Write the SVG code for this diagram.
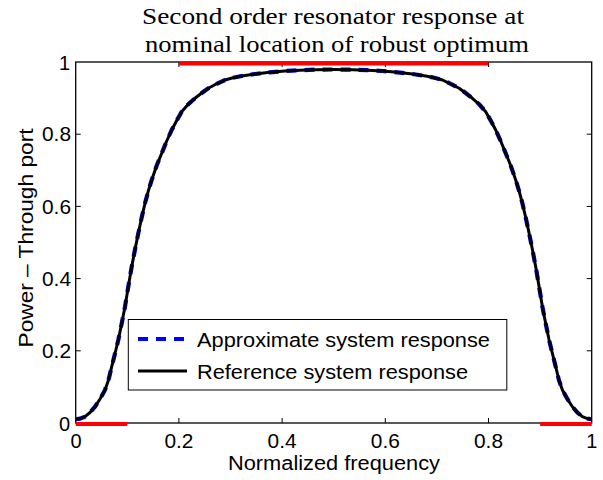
<svg xmlns="http://www.w3.org/2000/svg" xmlns:xlink="http://www.w3.org/1999/xlink" width="603" height="480" viewBox="0 0 603 480">
<style>
.sans{font-family:"Liberation Sans",Arial,sans-serif;fill:#000}
.serif{font-family:"Liberation Serif","Times New Roman",serif;fill:#000}
.tick{font-size:20px}
.ax{fill:none;stroke:#000;stroke-width:1.3}
.tk{stroke:#000;stroke-width:1}
.red{stroke:#ff0000;stroke-width:4;fill:none}
.approx{fill:none;stroke:#0000ff;stroke-width:4.2;stroke-dasharray:10 8}
.ref{fill:none;stroke:#000;stroke-width:3;stroke-linejoin:round}
</style>
<defs>
<polyline id="curve" points="75.7,419.3 80,418.6 85,416.7 90,412.5 95,406.7 100,399 105,390 108.5,380 111.7,366.7 115,353.5 118.3,340 121.7,323.5 125,306.7 128.3,286.7 131.7,266.7 135,249.5 138.3,233.3 141.7,217.5 145,203.3 148.3,191 151.7,180 156.7,165.5 161.7,153.3 166.7,141 171.7,130 176.7,120.5 181.7,111.7 188,104.5 195,98.3 201.7,93 208.3,88.3 216.7,83.8 225,80 233,77.8 241.7,76 255,74 270,72.3 285,71 300,70.2 315,69.7 333.7,69.5 352.4,69.7 367.4,70.2 382.4,71 397.4,72.3 412.4,74 425.7,76 434.4,77.8 442.4,80 450.7,83.8 459.1,88.3 465.7,93 472.4,98.3 479.4,104.5 485.7,111.7 490.7,120.5 495.7,130 500.7,141 505.7,153.3 510.7,165.5 515.7,180 519.1,191 522.4,203.3 525.7,217.5 529.1,233.3 532.4,249.5 535.7,266.7 539.1,286.7 542.4,306.7 545.7,323.5 549.1,340 552.4,353.5 555.7,366.7 558.9,380 562.4,390 567.4,399 572.4,406.7 577.4,412.5 582.4,416.7 587.4,418.6 591.7,419.3"/>
</defs>
<rect width="603" height="480" fill="#fff"/>
<g id="title">
<text class="serif" x="333" y="24" font-size="24" text-anchor="middle" textLength="382" lengthAdjust="spacingAndGlyphs">Second order resonator response at</text>
<text class="serif" x="337" y="52" font-size="24" text-anchor="middle" textLength="384" lengthAdjust="spacingAndGlyphs">nominal location of robust optimum</text>
</g>
<g id="axes">
<rect class="ax" x="75.7" y="62" width="516" height="361"/>
<path class="tk" d="M178.9,423V418M282.1,423V418M385.3,423V418M488.5,423V418M178.9,62V67M282.1,62V67M385.3,62V67M488.5,62V67M75.7,134.2H80.7M75.7,206.4H80.7M75.7,278.6H80.7M75.7,350.8H80.7M591.7,134.2H586.7M591.7,206.4H586.7M591.7,278.6H586.7M591.7,350.8H586.7"/>
</g>
<g id="xticklabels" class="sans tick" text-anchor="middle">
<text x="76" y="448">0</text>
<text x="178.9" y="448" textLength="29" lengthAdjust="spacingAndGlyphs">0.2</text>
<text x="282.1" y="448" textLength="29" lengthAdjust="spacingAndGlyphs">0.4</text>
<text x="385.3" y="448" textLength="29" lengthAdjust="spacingAndGlyphs">0.6</text>
<text x="488.5" y="448" textLength="29" lengthAdjust="spacingAndGlyphs">0.8</text>
<text x="591.7" y="448">1</text>
</g>
<g id="yticklabels" class="sans tick" text-anchor="end">
<text x="70" y="430.5">0</text>
<text x="71" y="358" textLength="29" lengthAdjust="spacingAndGlyphs">0.2</text>
<text x="71" y="285.8" textLength="29" lengthAdjust="spacingAndGlyphs">0.4</text>
<text x="71" y="213.6" textLength="29" lengthAdjust="spacingAndGlyphs">0.6</text>
<text x="71" y="141.4" textLength="29" lengthAdjust="spacingAndGlyphs">0.8</text>
<text x="70" y="69.5">1</text>
</g>
<g id="axislabels">
<text class="sans" x="334" y="470" font-size="20" text-anchor="middle" textLength="212" lengthAdjust="spacingAndGlyphs">Normalized frequency</text>
<text class="sans" transform="translate(33,238) rotate(-90)" x="0" y="0" font-size="20.5" text-anchor="middle" textLength="219" lengthAdjust="spacingAndGlyphs">Power – Through port</text>
</g>
<g id="constraints">
<line class="red" x1="178.9" y1="63.5" x2="488.5" y2="63.5"/>
<line class="red" x1="75.7" y1="424" x2="127.3" y2="424"/>
<line class="red" x1="540.1" y1="424" x2="591.7" y2="424"/>
</g>
<g id="curves">
<use xlink:href="#curve" class="approx"/>
<use xlink:href="#curve" class="ref"/>
</g>
<g id="legend">
<rect x="128.3" y="319.5" width="378.5" height="70.5" fill="#fff" stroke="#000" stroke-width="1"/>
<line x1="138" y1="339" x2="187" y2="339" stroke="#0000ff" stroke-width="4" stroke-dasharray="10 8"/>
<line x1="138" y1="371" x2="187" y2="371" stroke="#000" stroke-width="3"/>
<text class="sans" x="197" y="346.5" font-size="20" textLength="293" lengthAdjust="spacingAndGlyphs">Approximate system response</text>
<text class="sans" x="197" y="378.5" font-size="20" textLength="271" lengthAdjust="spacingAndGlyphs">Reference system response</text>
</g>
</svg>
